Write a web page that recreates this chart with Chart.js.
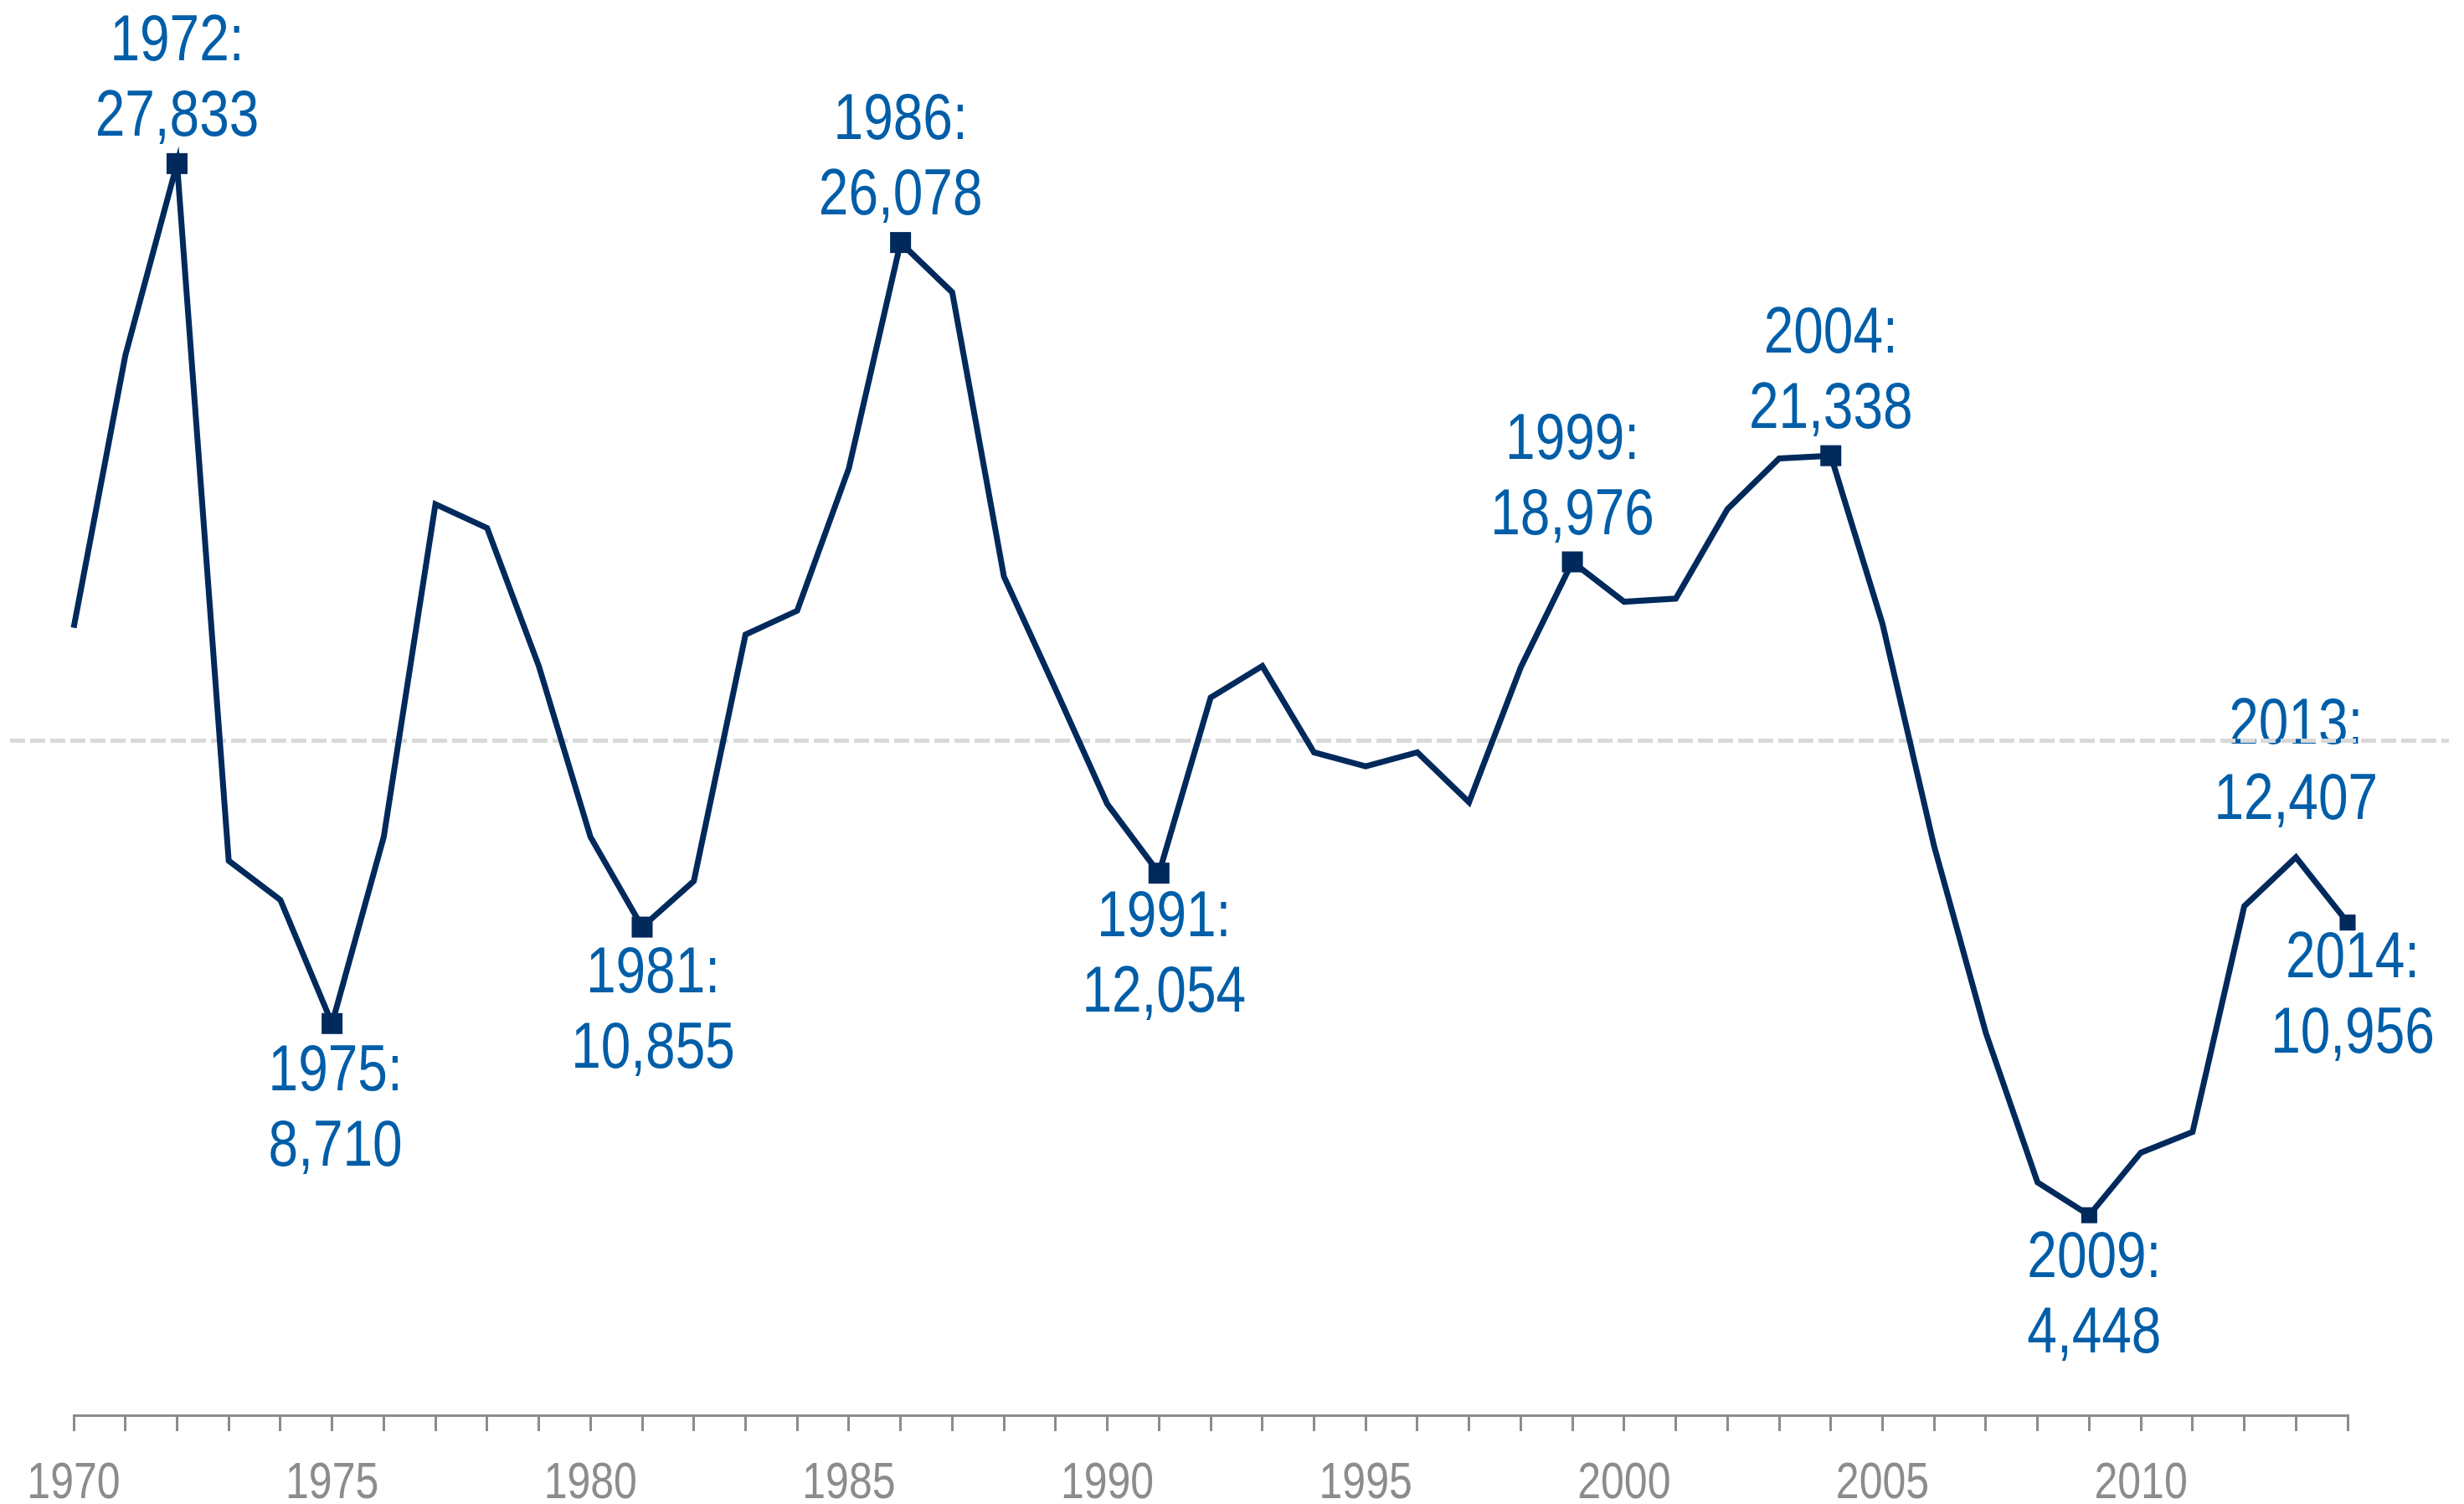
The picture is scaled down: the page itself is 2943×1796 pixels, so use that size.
<!DOCTYPE html>
<html>
<head>
<meta charset="utf-8">
<script src="https://cdn.jsdelivr.net/npm/chart.js@4"></script>
<style>
  html, body { margin: 0; padding: 0; background: #fff; }
  canvas { display: block; }
</style>
</head>
<body>
<canvas id="myChart" width="2943" height="1796"></canvas>
<script>
const years = [];
for (let y = 1970; y <= 2014; y++) years.push(y);

const values = [
    17510, 23570, 27833, 12330, 11460, 8710, 12860, 20260, 19730, 16660,
    12860, 10855, 11880, 17360, 17890, 21060, 26078, 24970, 18650, 16140,
    13590, 12054, 15960, 16660, 14740, 14430, 14740, 13630, 16630, 18976,
    18090, 18160, 20150, 21275, 21338, 17600, 12650, 8500, 5180, 4448,
    5840, 6300, 11320, 12407, 10956
];

const calloutYears = [1972, 1975, 1981, 1986, 1991, 1999, 2004, 2009, 2013, 2014];
const calloutSide = ["above", "below", "below", "above", "below", "above", "above", "below", "above", "below"];
const markerYears = [1972, 1975, 1981, 1986, 1991, 1999, 2004, 2009, 2014];
const smallMarkers = [2009, 2014];

const averageValue = 15000;

const tickYears = [1970, 1975, 1980, 1985, 1990, 1995, 2000, 2005, 2010];

// small nudges for the callouts, in px
const calloutNudge = {
    1975: [4, 4], 1981: [13, 2], 1991: [6, 0], 2009: [6, -2],
    2013: [0, 12], 2014: [6, -10]
};

// no condensed font available, so squeeze Liberation Sans sideways
const FONT = "'Liberation Sans', Arial, sans-serif";
const SQUEEZE = 0.82;

function narrowText(ctx, text, x, y) {
    ctx.save();
    ctx.translate(x, y);
    ctx.scale(SQUEEZE, 1);
    ctx.fillText(text, 0, 0);
    ctx.restore();
}

const calloutPlugin = {
    id: "callouts",
    beforeDatasetsDraw(chart) {
        const ctx = chart.ctx;
        const xs = chart.scales.x;
        const ys = chart.scales.y;

        ctx.save();
        ctx.font = "78px " + FONT;
        ctx.fillStyle = "#005ea8";
        ctx.textAlign = "center";
        ctx.textBaseline = "middle";
        calloutYears.forEach(function (yr, i) {
            const v = values[years.indexOf(yr)];
            const nudge = calloutNudge[yr] || [0, 0];
            const px = xs.getPixelForValue(yr) + nudge[0];
            const py = ys.getPixelForValue(v);
            const l1 = yr + ":";
            const l2 = v.toLocaleString("en-US");
            if (calloutSide[i] === "above") {
                narrowText(ctx, l1, px, py - 145 - nudge[1]);
                narrowText(ctx, l2, px, py - 55 - nudge[1]);
            } else {
                narrowText(ctx, l1, px, py + 54 + nudge[1]);
                narrowText(ctx, l2, px, py + 144 + nudge[1]);
            }
        });

        // average line
        const ay = ys.getPixelForValue(averageValue);
        ctx.strokeStyle = "#d9d9d9";
        ctx.lineWidth = 5;
        ctx.setLineDash([18, 6]);
        ctx.beginPath();
        ctx.moveTo(12, ay);
        ctx.lineTo(2925, ay);
        ctx.stroke();
        ctx.restore();
    },
    afterDraw(chart) {
        const ctx = chart.ctx;
        const xs = chart.scales.x;
        ctx.save();
        ctx.font = "61px " + FONT;
        ctx.fillStyle = "#8c8c8c";
        ctx.textAlign = "center";
        ctx.textBaseline = "alphabetic";
        tickYears.forEach(function (yr) {
            narrowText(ctx, String(yr), xs.getPixelForValue(yr), xs.top + 99);
        });
        ctx.restore();
    }
};

new Chart(document.getElementById("myChart"), {
    type: "line",
    data: {
        datasets: [{
            data: years.map((yr, i) => ({ x: yr, y: values[i] })),
            borderColor: "#00295c",
            borderWidth: 7,
            tension: 0,
            clip: false,
            pointStyle: "rect",
            pointBackgroundColor: "#00295c",
            pointBorderWidth: 0,
            pointRadius: years.map(yr => markerYears.includes(yr) ? (smallMarkers.includes(yr) ? 13.5 : 17.7) : 0),
        }],
    },
    options: {
        responsive: false,
        animation: false,
        devicePixelRatio: 1,
        layout: {
            padding: { left: 88, right: 139, top: 79, bottom: 0 },
        },
        plugins: {
            legend: { display: false },
            tooltip: { enabled: false },
        },
        scales: {
            x: {
                type: "linear",
                min: 1970,
                max: 2014,
                afterFit: function (s) { s.height = 106; },
                afterBuildTicks: function (s) {
                    s.ticks = years.map(v => ({ value: v }));
                },
                ticks: {
                    display: false,
                },
                grid: {
                    drawOnChartArea: false,
                    tickLength: 19,
                    color: "#8c8c8c",
                    lineWidth: 3,
                },
                border: { color: "#8c8c8c", width: 3 },
            },
            y: {
                display: false,
                min: 0,
                max: 30000,
            },
        },
    },
    plugins: [calloutPlugin],
});
</script>
</body>
</html>
